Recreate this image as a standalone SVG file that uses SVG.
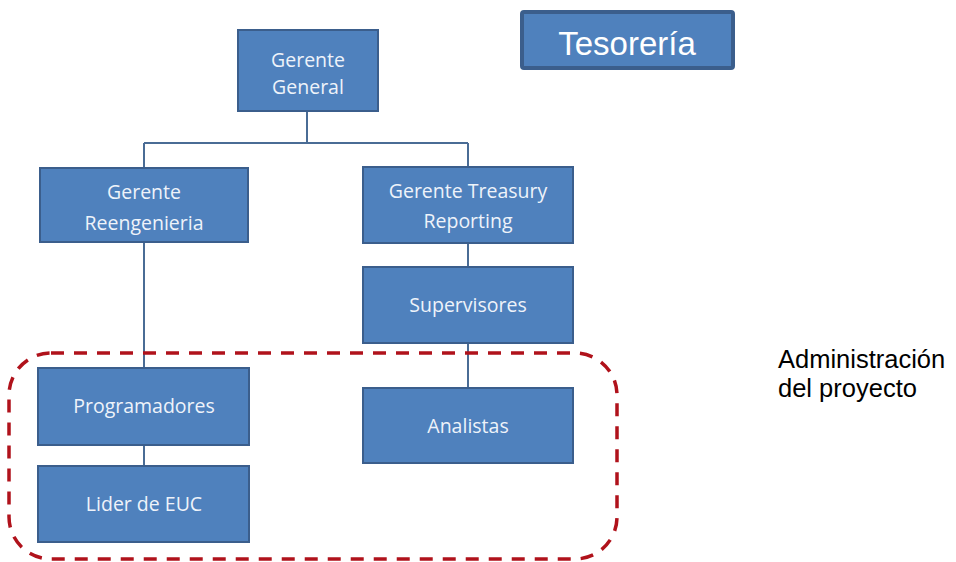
<svg xmlns="http://www.w3.org/2000/svg" width="956" height="562" viewBox="0 0 956 562">
<style>
.box{fill:#4F81BD;stroke:#3B5E8C;stroke-width:2}
.t{font-family:"Open Sans","Liberation Sans",sans-serif;font-size:19.5px;fill:#EEF3FA;text-anchor:middle}
.c{fill:none;stroke:#4A6C95;stroke-width:2}
</style>
<rect width="956" height="562" fill="#fff"/>
<g id="connectors">
<path class="c" d="M307 111V143M144 143H468M144 143V168M468 143V168M144 242V368M144 445V466M468 243V267M468 343V388"/>
</g>
<g id="gerente-general"><rect class="box" x="238" y="30" width="140" height="81"/><text class="t" x="308" y="67">Gerente</text><text class="t" x="308" y="94">General</text></g>
<g id="gerente-reengenieria"><rect class="box" x="40" y="168" width="208" height="74"/><text class="t" x="144" y="199">Gerente</text><text class="t" x="144" y="230">Reengenieria</text></g>
<g id="gerente-treasury"><rect class="box" x="363" y="167" width="210" height="76"/><text class="t" x="468" y="198">Gerente Treasury</text><text class="t" x="468" y="228">Reporting</text></g>
<g id="supervisores"><rect class="box" x="363" y="267" width="210" height="76"/><text class="t" x="468" y="312">Supervisores</text></g>
<g id="programadores"><rect class="box" x="38" y="368" width="211" height="77"/><text class="t" x="144" y="413">Programadores</text></g>
<g id="analistas"><rect class="box" x="363" y="388" width="210" height="75"/><text class="t" x="468" y="433">Analistas</text></g>
<g id="lider"><rect class="box" x="38" y="466" width="211" height="76"/><text class="t" x="144" y="511">Lider de EUC</text></g>
<g id="tesoreria"><rect x="522" y="12" width="211" height="56" rx="2" fill="#4F81BD" stroke="#3B5E8C" stroke-width="4"/><text x="627" y="55" font-family="Liberation Sans,Arial,sans-serif" font-size="33" fill="#fff" text-anchor="middle">Tesorería</text></g>
<g id="admin-proyecto"><rect x="9" y="353" width="608" height="206" rx="42" fill="none" stroke="#B0121B" stroke-width="3.5" stroke-dasharray="13 10"/></g>
<g id="admin-label"><text font-family="Liberation Sans,Arial,sans-serif" font-size="25.5" fill="#000"><tspan x="778" y="368">Administración</tspan><tspan x="778" y="397">del proyecto</tspan></text></g>
</svg>
